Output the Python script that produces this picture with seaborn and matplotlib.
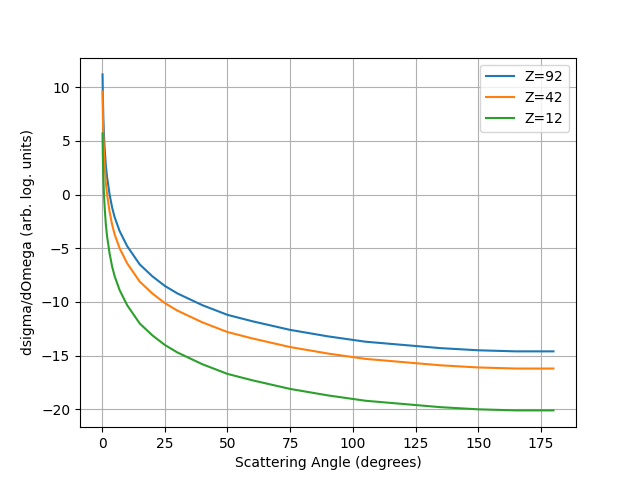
import matplotlib
matplotlib.use("Agg")
import matplotlib.pyplot as plt
import seaborn as sns
import pandas as pd

angles = [0.18, 0.3, 0.5, 0.75, 1, 1.5, 2, 3, 4, 5, 7, 10, 15, 20, 25, 30, 40, 50, 60, 75, 90, 105, 120, 135, 150, 165, 180]
z92 = [11.2, 9.2, 7.1, 5.5, 4.4, 2.7, 1.6, 0.0, -1.2, -2.1, -3.4, -4.8, -6.5, -7.6, -8.5, -9.2, -10.3, -11.2, -11.8, -12.6, -13.2, -13.7, -14.0, -14.3, -14.5, -14.6, -14.6]
z42 = [9.6, 7.6, 5.5, 3.9, 2.8, 1.1, 0.0, -1.6, -2.8, -3.7, -5.0, -6.4, -8.1, -9.2, -10.1, -10.8, -11.9, -12.8, -13.4, -14.2, -14.8, -15.3, -15.6, -15.9, -16.1, -16.2, -16.2]
z12 = [5.7, 3.7, 1.6, 0.0, -1.1, -2.8, -3.9, -5.5, -6.7, -7.6, -8.9, -10.3, -12.0, -13.1, -14.0, -14.7, -15.8, -16.7, -17.3, -18.1, -18.7, -19.2, -19.5, -19.8, -20.0, -20.1, -20.1]
labels = ["Z=92", "Z=42", "Z=12"]

rows = []
for lab, ys in zip(labels, [z92, z42, z12]):
    for a, y in zip(angles, ys):
        rows.append({"angle": a, "val": y, "series": lab})
df = pd.DataFrame(rows)

fig, ax = plt.subplots(figsize=(6.4, 4.8), dpi=100)
sns.lineplot(data=df, x="angle", y="val", hue="series", hue_order=labels,
             palette=["#1f77b4", "#ff7f0e", "#2ca02c"], ax=ax)
ax.grid(True)
ax.set_xlabel("Scattering Angle (degrees)")
ax.set_ylabel("dsigma/dOmega (arb. log. units)")
ax.legend(title=None, loc="upper right")
fig.savefig("out.png", dpi=100)
